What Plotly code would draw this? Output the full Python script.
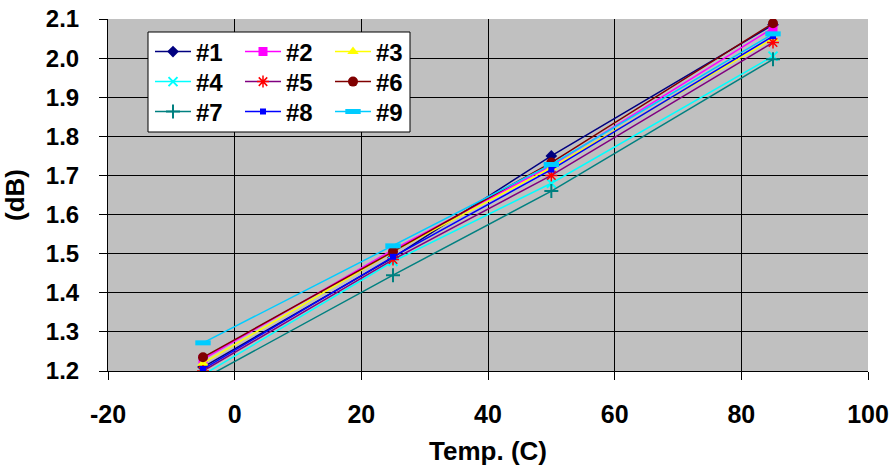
import plotly.graph_objects as go

temps = [-5, 25, 50, 85]
names = ["#1", "#2", "#3", "#4", "#5", "#6", "#7", "#8", "#9"]
s1 = [1.21, 1.49, 1.75, 2.085]
s2 = [1.23, 1.51, 1.725, 2.077]
s3 = [1.22, 1.505, 1.72, 2.05]
s4 = [1.19, 1.48, 1.68, 2.005]
s5 = [1.20, 1.485, 1.70, 2.04]
s6 = [1.235, 1.505, 1.733, 2.089]
s7 = [1.18, 1.445, 1.66, 1.997]
s8 = [1.205, 1.492, 1.715, 2.056]
s9 = [1.272, 1.52, 1.728, 2.062]
series = [s1, s2, s3, s4, s5, s6, s7, s8, s9]
x_ticks = [-20, 0, 20, 40, 60, 80, 100]
x_tick_labels = ["-20", "0", "20", "40", "60", "80", "100"]
y_ticks = [1.2, 1.3, 1.4, 1.5, 1.6, 1.7, 1.8, 1.9, 2.0, 2.1]
y_tick_labels = ["1.2", "1.3", "1.4", "1.5", "1.6", "1.7", "1.8", "1.9", "2.0", "2.1"]

styles = [
    dict(lc="#000080", mc="#000080", sym="diamond", size=9, lw=0),
    dict(lc="#ff00ff", mc="#ff00ff", sym="square", size=9, lw=0),
    dict(lc="#ffff00", mc="#ffff00", sym="triangle-up", size=10, lw=0),
    dict(lc="#00ffff", mc="#00ffff", sym="x-thin", size=9, lw=2),
    dict(lc="#800080", mc="#ff0000", sym="asterisk", size=10, lw=1.5),
    dict(lc="#800000", mc="#800000", sym="circle", size=10, lw=0),
    dict(lc="#008080", mc="#008080", sym="cross-thin", size=10, lw=2),
    dict(lc="#0000ff", mc="#0000ff", sym="square", size=6, lw=0),
    dict(lc="#00ccff", mc="#00ccff", sym="line-ew", size=11, lw=5),
]

legend_ids = ["legend", "legend2", "legend3"]

fig = go.Figure()
for i, (nm, ys, st) in enumerate(zip(names, series, styles)):
    mk = dict(symbol=st["sym"], size=st["size"], color=st["mc"])
    if st["lw"]:
        mk["line"] = dict(color=st["mc"], width=st["lw"])
    fig.add_trace(go.Scatter(
        x=temps, y=ys, name=nm, mode="lines+markers",
        line=dict(color=st["lc"], width=1.5), marker=mk,
        legend=legend_ids[i // 3],
    ))

font = "Liberation Sans, Arial, sans-serif"
xtickf = dict(family=font, size=25, color="black", weight=700)
ytickf = dict(family=font, size=24, color="black", weight=700)
titlef = dict(family=font, size=26, color="black", weight=700)
leg_common = dict(bgcolor="rgba(0,0,0,0)", borderwidth=0,
                  font=dict(family=font, size=24, color="black", weight=700),
                  yanchor="middle", xanchor="left", orientation="h",
                  itemwidth=36, entrywidth=39, tracegroupgap=0)
# body margin is removed by post_script; target plot area in px: x 108..868, y 19..371
L, R, T, B = 108, 868, 19, 371
W, H = 893, 468
px2x = lambda px: (px - L) / (R - L)
px2y = lambda py: (B - py) / (B - T)
leg_x = 150
rows_y = [52, 82, 112]

fig.update_layout(
    width=W, height=H,
    margin=dict(l=L, r=W - R, t=T, b=H - B),
    paper_bgcolor="white", plot_bgcolor="#c0c0c0",
    font=xtickf,
    legend=dict(x=px2x(leg_x), y=px2y(rows_y[0]), **leg_common),
    legend2=dict(x=px2x(leg_x), y=px2y(rows_y[1]), **leg_common),
    legend3=dict(x=px2x(leg_x), y=px2y(rows_y[2]), **leg_common),
    shapes=[dict(type="rect", xref="paper", yref="paper",
                 x0=px2x(148), x1=px2x(410), y0=px2y(132), y1=px2y(32),
                 fillcolor="white", line=dict(color="black", width=1),
                 layer="above")],
)
fig.update_xaxes(
    range=[-20, 100], tickvals=x_ticks, ticktext=x_tick_labels,
    showgrid=True, gridcolor="black", gridwidth=1,
    showline=True, linecolor="black", linewidth=1, mirror=False,
    ticks="outside", ticklen=8, tickcolor="black", ticklabelstandoff=13,
    ticklabeloverflow="allow",
    tickfont=xtickf, automargin=False,
    title=dict(text="Temp. (C)", font=titlef, standoff=14),
    zeroline=False,
)
fig.update_yaxes(
    range=[1.2, 2.1], tickvals=y_ticks, ticktext=y_tick_labels,
    showgrid=True, gridcolor="black", gridwidth=1,
    showline=True, linecolor="black", linewidth=1,
    ticks="outside", ticklen=8, tickcolor="black", ticklabelstandoff=15,
    ticklabeloverflow="allow",
    tickfont=ytickf, automargin=False,
    title=dict(text="(dB)", font=titlef, standoff=14),
    zeroline=False,
)
fig.write_html("out.html", config={"displayModeBar": False},
               post_script="document.body.style.margin='0';document.body.style.overflow='hidden';")
